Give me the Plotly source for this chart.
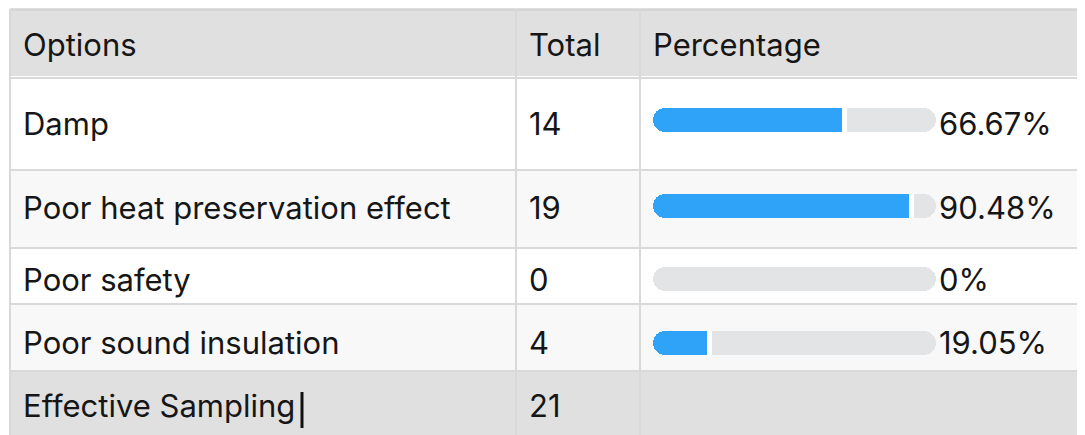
import plotly.graph_objects as go

# Data
options = ['Damp', 'Poor heat preservation effect', 'Poor safety', 'Poor sound insulation']
totals = [14, 19, 0, 4]
percentages = [66.67, 90.48, 0, 19.05]
pct_labels = ['66.67%', '90.48%', '0%', '19.05%']
header = ['Options', 'Total', 'Percentage']
footer_label = 'Effective Sampling'
footer_total = 21

# Layout: a hidden axis in page pixels (the page body has an 8px margin)
OFF = 8
W, H = 1085, 435
col_x = [10, 516, 640]               # column left edges
text_pad = 11
row_edges = [77, 169, 247, 303, 370]  # body row boundaries
row_y = [123, 207, 279, 342]         # row centres
bar_y = [120, 206, 279, 343]
header_y = 44
footer_y = 405
track_x0, track_x1 = 653, 936
bar_h = 24

HEADER_BG = '#e0e0e0'
ALT_BG = '#f8f8f8'
LINE = '#d9d9d9'
BLUE = '#2ea3f8'
TRACK = '#e3e4e6'
TXT = '#161616'
FONT = 'Inter'
FS = 31

n = len(options)
fig = go.Figure()

common = dict(y=bar_y, orientation='h', width=bar_h, xaxis='x2', yaxis='y',
              hoverinfo='skip', showlegend=False)
# grey track (explicit base -> both ends rounded)
fig.add_trace(go.Bar(x=[100] * n, base=[0.001] * n,
                     marker=dict(color=TRACK, cornerradius=bar_h // 2, line_width=0), **common))
# blue value bar, rounded
fig.add_trace(go.Bar(x=percentages, base=[0.001] * n,
                     marker=dict(color=BLUE, cornerradius=bar_h // 2, line_width=0), **common))
# square off the right end of the value bar
fig.add_trace(go.Bar(x=[p / 2 for p in percentages], base=[p / 2 for p in percentages],
                     marker=dict(color=BLUE, line_width=0), **common))
# small white gap between the value and the rest of the track
fig.add_trace(go.Bar(x=[1.8 if p > 0 else 0 for p in percentages], base=percentages,
                     marker=dict(color='white', line_width=0), **common))

shapes = []
# backgrounds
shapes.append(dict(type='rect', xref='x', yref='y', x0=col_x[0], x1=W + 5, y0=10, y1=76,
                   fillcolor=HEADER_BG, line_width=0, layer='below'))
bg = ['white', ALT_BG, 'white', ALT_BG]
for i in range(n):
    shapes.append(dict(type='rect', xref='x', yref='y', x0=col_x[0], x1=W + 5,
                       y0=row_edges[i], y1=row_edges[i + 1], fillcolor=bg[i],
                       line_width=0, layer='below'))
shapes.append(dict(type='rect', xref='x', yref='y', x0=col_x[0], x1=W + 5, y0=row_edges[-1],
                   y1=H + 5, fillcolor=HEADER_BG, line_width=0, layer='below'))
# grid lines
shapes.append(dict(type='line', xref='x', yref='y', x0=col_x[0], x1=W + 5, y0=9.5, y1=9.5,
                   line=dict(color='#d4d4d4', width=2.5), layer='below'))
for e in row_edges:
    shapes.append(dict(type='line', xref='x', yref='y', x0=col_x[0], x1=W + 5, y0=e + 1, y1=e + 1,
                       line=dict(color=LINE, width=2), layer='below'))
for cx in col_x:
    shapes.append(dict(type='line', xref='x', yref='y', x0=cx, x1=cx, y0=9, y1=H + 5,
                       line=dict(color=LINE, width=2), layer='below'))
# text cursor after the footer label
shapes.append(dict(type='line', xref='x', yref='y', x0=302, x1=302, y0=392, y1=428,
                   line=dict(color='#111111', width=3)))

ann = []


def txt(x, y, s):
    ann.append(dict(xref='x', yref='y', x=x, y=y, text=s, showarrow=False,
                    xanchor='left', yanchor='middle', font=dict(family=FONT, size=FS, color=TXT)))


for j, h in enumerate(header):
    txt(col_x[j] + text_pad, header_y, h)
for i in range(n):
    txt(col_x[0] + text_pad, row_y[i], options[i])
    txt(col_x[1] + text_pad, row_y[i], str(totals[i]))
    txt(track_x1 + 1, row_y[i], pct_labels[i])
txt(col_x[0] + text_pad, footer_y, footer_label)
txt(col_x[1] + text_pad, footer_y, str(footer_total))

FW, FH = W - OFF, H - OFF
fig.update_layout(
    width=FW, height=FH, margin=dict(l=0, r=0, t=0, b=0),
    paper_bgcolor='white', plot_bgcolor='rgba(0,0,0,0)',
    barmode='overlay', bargap=0,
    xaxis=dict(range=[OFF, W], visible=False, fixedrange=True),
    xaxis2=dict(domain=[(track_x0 - OFF) / FW, (track_x1 - OFF) / FW], range=[0, 100],
                anchor='y', visible=False, fixedrange=True),
    yaxis=dict(range=[H, OFF], visible=False, fixedrange=True),
    shapes=shapes, annotations=ann,
)

fig.write_html('out.html', config={'displayModeBar': False})
